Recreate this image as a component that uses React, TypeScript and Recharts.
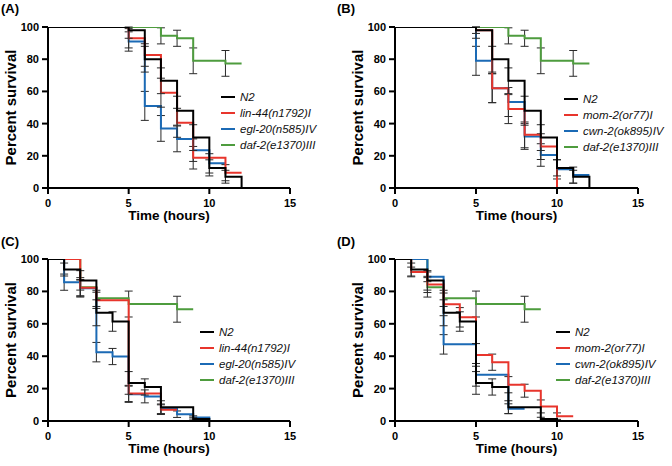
import React from 'react';
import { LineChart, Line, XAxis, YAxis, ErrorBar, Legend } from 'recharts';

type Pt = [number, number, number]; // [time, percent survival, error]

const TIME_TICKS = [0, 5, 10, 15];
const SURVIVAL_TICKS = [0, 20, 40, 60, 80, 100];
const LEGEND_AC = ['N2', 'lin-44(n1792)I', 'egl-20(n585)IV', 'daf-2(e1370)III'];
const LEGEND_BD = ['N2', 'mom-2(or77)I', 'cwn-2(ok895)IV', 'daf-2(e1370)III'];
const COLORS = ['#000000', '#e8352c', '#1b6ab5', '#4e9c3e'];

// Panels A & B (shared controls)
const N2_AB: Pt[] = [[0, 100, 0], [5, 98, 5], [6, 80, 8], [7, 66.6, 8], [8, 48, 9], [9, 31.3, 8], [10, 12.5, 5], [11, 7, 4], [12, 0, 0]];
const DAF2_AB: Pt[] = [[0, 100, 0], [7, 94.5, 5], [8, 93, 5], [9, 79, 8], [11, 77.4, 8], [12, 77.4, 0]];
const LIN44_A: Pt[] = [[0, 100, 0], [5, 93, 6], [6, 82.6, 7], [7, 59.2, 9], [8, 40.5, 9], [9, 18.8, 7], [11, 9.5, 5], [12, 9.5, 0]];
const EGL20_A: Pt[] = [[0, 100, 0], [5, 91, 6], [6, 51, 9], [7, 37, 8], [8, 30.5, 8], [9, 23.5, 7], [10, 15.3, 6], [11, 15.3, 0]];
const MOM2_B: Pt[] = [[0, 100, 0], [5, 98, 2], [6, 62, 9], [7, 49, 9], [8, 33, 8], [9, 25.7, 8], [10, 0, 0]];
const CWN2_B: Pt[] = [[0, 100, 0], [5, 79, 9], [6, 62, 9], [7, 53.4, 9], [8, 32, 8], [9, 20.5, 7], [10, 11.6, 6], [11, 8, 5], [12, 8, 0]];

// Panels C & D (shared controls)
const N2_CD: Pt[] = [[0, 100, 0], [1, 93.5, 4], [2, 86.8, 6], [3, 66.8, 8], [4, 61.4, 6], [5, 23.5, 7], [6, 21, 5], [7, 8.5, 4], [9, 1.3, 1], [10, 0, 0]];
const DAF2_CD: Pt[] = [[0, 100, 0], [2, 82.5, 6], [3, 75.7, 5], [5, 72.2, 8], [8, 69, 8], [9, 69, 0]];
const LIN44_C: Pt[] = [[0, 100, 0], [2, 82.3, 5], [3, 74.5, 5], [5, 17, 5], [7, 7, 3], [8, 7, 0]];
const EGL20_C: Pt[] = [[0, 100, 0], [1, 85.7, 5], [2, 82, 5], [3, 42.5, 6], [4, 39.8, 5], [5, 16.5, 5], [6, 15.2, 4], [7, 7.5, 3], [8, 4.2, 2], [9, 2.2, 1], [10, 0, 0]];
const MOM2_D: Pt[] = [[0, 100, 0], [1, 92, 3], [2, 84.3, 5], [3, 72, 7], [4, 64, 6], [5, 40.8, 7], [6, 36.3, 5], [7, 22.4, 5], [8, 18.7, 4], [9, 9, 4], [10, 3, 2], [11, 3, 0]];
const CWN2_D: Pt[] = [[0, 100, 0], [2, 89, 3], [3, 47.3, 6], [5, 28.5, 7], [7, 7.6, 3], [8, 7.6, 0]];

const FONT = '"Liberation Sans", Arial, Helvetica, sans-serif';

const toRows = (pts: Pt[]) =>
  pts.map(([t, s, e]) => ({
    t,
    s,
    err: e > 0 ? [Math.min(e, s), Math.min(e, 100 - s)] : null,
  }));

type PanelProps = {
  label: string;
  names: string[];
  series: Pt[][];
  yw: number;
  mr: number;
  mt: number;
  legendLeft: number;
  legendTop: number;
};

const DRAW_ORDER = [3, 2, 1, 0];

function Panel({ label, names, series, yw, mr, mt, legendLeft, legendTop }: PanelProps) {
  const axisStyle = { stroke: '#000', strokeWidth: 2 };
  const tickStyle = { fill: '#000', fontSize: 11, fontWeight: 700, fontFamily: FONT };
  const legendContent = () => (
    <div style={{ fontFamily: FONT }}>
      {names.map((n, i) => (
        <div key={n} style={{ display: 'flex', alignItems: 'center', height: 16 }}>
          <div style={{ width: 14, height: 2, background: COLORS[i] }} />
          <span style={{ marginLeft: 5, fontStyle: 'italic', fontSize: 11.5, color: '#111', whiteSpace: 'nowrap' }}>{n}</span>
        </div>
      ))}
    </div>
  );
  return (
    <div style={{ position: 'relative', width: 336, height: 233 }}>
      <LineChart width={336} height={233} margin={{ top: mt, right: mr, bottom: 5, left: 0 }}>
        <XAxis
          type="number"
          dataKey="t"
          domain={[0, 15]}
          ticks={TIME_TICKS}
          interval={0}
          allowDataOverflow
          height={40}
          axisLine={axisStyle}
          tickLine={axisStyle}
          tickSize={6}
          tickMargin={5}
          tick={tickStyle}
          label={(p: any) => {
            const vb = p.viewBox;
            return (
              <text
                x={vb.x + vb.width / 2}
                y={vb.y + 27}
                textAnchor="middle"
                dominantBaseline="central"
                style={{ fontFamily: FONT, fontWeight: 700, fontSize: 13.5, fill: '#000' }}
              >
                Time (hours)
              </text>
            );
          }}
        />
        <YAxis
          type="number"
          domain={[0, 100]}
          ticks={SURVIVAL_TICKS}
          interval={0}
          allowDataOverflow
          width={yw}
          axisLine={axisStyle}
          tickLine={axisStyle}
          tickSize={6}
          tickMargin={3}
          tick={tickStyle}
          label={(p: any) => {
            const vb = p.viewBox;
            const x = vb.x + vb.width - 38;
            const y = vb.y + vb.height / 2;
            return (
              <text
                x={x}
                y={y}
                transform={`rotate(-90, ${x}, ${y})`}
                textAnchor="middle"
                dominantBaseline="central"
                style={{ fontFamily: FONT, fontWeight: 700, fontSize: 15, fill: '#000' }}
              >
                Percent survival
              </text>
            );
          }}
        />
        {DRAW_ORDER.map((i) => (
          <Line
            key={names[i]}
            name={names[i]}
            data={toRows(series[i])}
            dataKey="s"
            type="stepAfter"
            stroke={COLORS[i]}
            strokeWidth={2}
            dot={false}
            activeDot={false}
            isAnimationActive={false}
          >
            <ErrorBar dataKey="err" direction="y" width={4} strokeWidth={1} stroke="#2a2a2a" isAnimationActive={false} />
          </Line>
        ))}
        <Legend
          layout="vertical"
          align="center"
          verticalAlign="middle"
          wrapperStyle={{ left: legendLeft, top: legendTop, width: 120 }}
          content={legendContent}
        />
      </LineChart>
      <div
        style={{
          position: 'absolute',
          left: 1,
          top: 2,
          fontFamily: FONT,
          fontWeight: 700,
          fontSize: 13,
          lineHeight: '14px',
          color: '#000',
        }}
      >
        {label}
      </div>
    </div>
  );
}

export default function App() {
  return (
    <div style={{ position: 'absolute', left: 0, top: 0, width: 672, height: 466, background: '#fff' }}>
      <div style={{ position: 'absolute', left: 0, top: 0 }}>
        <Panel label="(A)" names={LEGEND_AC} series={[N2_AB, LIN44_A, EGL20_A, DAF2_AB]} yw={48} mr={46} mt={27} legendLeft={221} legendTop={89} />
      </div>
      <div style={{ position: 'absolute', left: 336, top: 0 }}>
        <Panel label="(B)" names={LEGEND_BD} series={[N2_AB, MOM2_B, CWN2_B, DAF2_AB]} yw={59} mr={34} mt={27} legendLeft={228} legendTop={91} />
      </div>
      <div style={{ position: 'absolute', left: 0, top: 233 }}>
        <Panel label="(C)" names={LEGEND_AC} series={[N2_CD, LIN44_C, EGL20_C, DAF2_CD]} yw={48} mr={46} mt={26} legendLeft={200} legendTop={91} />
      </div>
      <div style={{ position: 'absolute', left: 336, top: 233 }}>
        <Panel label="(D)" names={LEGEND_BD} series={[N2_CD, MOM2_D, CWN2_D, DAF2_CD]} yw={59} mr={34} mt={26} legendLeft={220} legendTop={91} />
      </div>
    </div>
  );
}
